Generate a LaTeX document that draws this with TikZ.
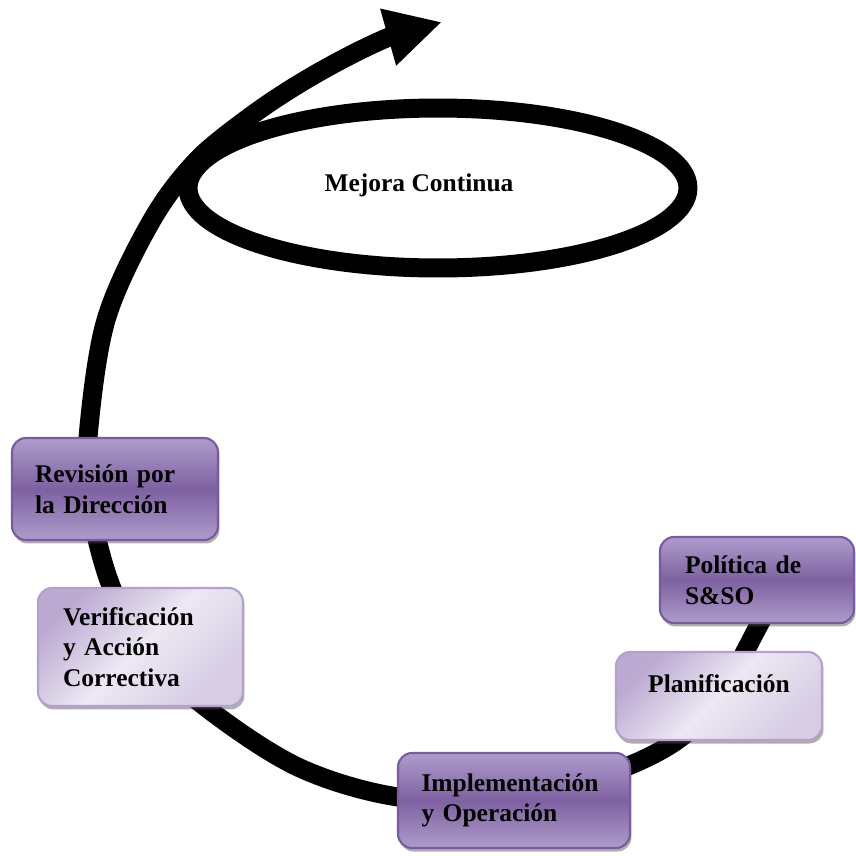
\documentclass[tikz,border=0pt]{standalone}
\usepackage{fontspec}
\setmainfont{Liberation Serif}
\usetikzlibrary{arrows.meta,shapes.geometric,shadows}
\definecolor{dkTop}{HTML}{AE9CCB}
\definecolor{dkMid}{HTML}{7E61A1}
\definecolor{dkBorder}{HTML}{7A5C9E}
\definecolor{ltA}{HTML}{BBA9D2}
\definecolor{ltB}{HTML}{EDE8F3}
\definecolor{ltC}{HTML}{D6CCE4}
\definecolor{ltBorder}{HTML}{B3A2CC}
\begin{document}
\begin{tikzpicture}[x=0.02cm,y=-0.02cm,
  boxbase/.style={rounded corners=0.28cm, line width=1.2pt, inner sep=0pt,
    font=\fontsize{14.5}{17.5}\selectfont\bfseries,
    drop shadow={shadow xshift=0.03cm, shadow yshift=-0.07cm, fill=black!70, opacity=0.45}},
  darkbox/.style={boxbase, draw=dkBorder, top color=dkTop, bottom color=dkTop, middle color=dkMid},
  lightbox/.style={boxbase, draw=ltBorder, left color=ltA, right color=ltC, middle color=ltB, shading angle=45},
  band/.style={line width=0.38cm, draw=black},
  lbl/.style={font=\fontsize{14.5}{17.5}\selectfont\bfseries}]
\useasboundingbox (0,0) rectangle (856,856);

% spiral band with arrow
\coordinate (tip) at (442,22);
\draw[band, -{Triangle[length=1.12cm,width=1.1cm]}]
  plot[smooth, tension=0.55] coordinates {(790,560) (760,623) (708,712) (642,760) (515,801) (398,797) (300,768) (212,712) (150,655) (111,586) (89,500) (88,437) (106,320) (152,220) (200,157) (262,108)}
  .. controls (322,66) and (385,38) .. (tip);

% continuous improvement loop
\node[ellipse, band, minimum width=10cm, minimum height=3.2cm, inner sep=0pt] (loop) at (438,188) {};
\node[lbl] (mc) at (419,185) {Mejora Continua};

% boxes
\node[darkbox, minimum width=4.12cm, minimum height=2.04cm, text width=3.2cm, align=left] (rev) at (115,489) {Revisión por\\la Dirección};
\node[lightbox, minimum width=4.1cm, minimum height=2.36cm, text width=3.1cm, align=left] (ver) at (140.5,647) {Verificación\\y Acción\\Correctiva};
\node[darkbox, minimum width=3.88cm, minimum height=1.72cm, text width=2.88cm, align=left] (pol) at (757,580) {Política de\\S\&SO};
\node[lightbox, minimum width=4.12cm, minimum height=1.76cm, text depth=0.5cm, align=center] (pla) at (719,696) {Planificación};
\node[darkbox, minimum width=4.64cm, minimum height=1.9cm, text width=3.7cm, align=left] (imp) at (514,800.5) {Implementación\\y Operación};
\end{tikzpicture}
\end{document}
